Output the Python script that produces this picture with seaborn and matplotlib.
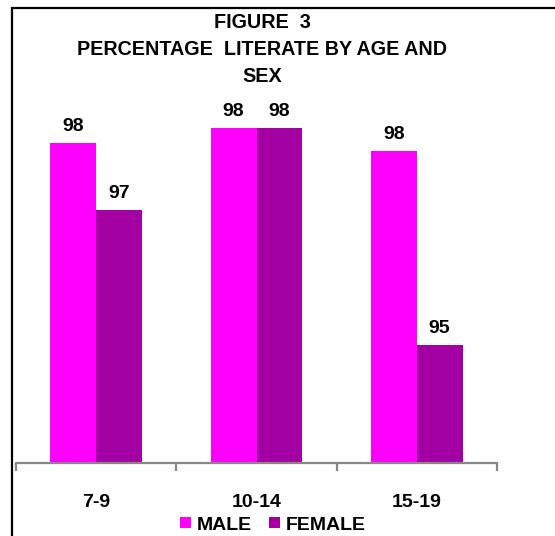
import matplotlib
matplotlib.use("Agg")
import matplotlib.pyplot as plt
from matplotlib.patches import Rectangle, Patch
import seaborn as sns
import pandas as pd

# Percentage literate by age group and sex
age_groups = ["7-9", "10-14", "15-19"]
male = [98.23, 98.50, 98.08]
female = [97.01, 98.50, 94.55]
sexes = ["MALE", "FEMALE"]
colors = {"MALE": "#FF00FF", "FEMALE": "#A300A3"}

df = pd.DataFrame({
    "age": age_groups * 2,
    "sex": ["MALE"] * len(age_groups) + ["FEMALE"] * len(age_groups),
    "pct": male + female,
})

sns.set_style("white")
plt.rcParams["font.family"] = ["Liberation Sans", "DejaVu Sans"]
plt.rcParams["text.color"] = "black"
plt.rcParams["xtick.color"] = "black"

fig = plt.figure(figsize=(5.55, 5.36), dpi=100)
ax = fig.add_axes([16 / 555, 1 - 463 / 536, 481 / 555, 363 / 536])

sns.barplot(data=df, x="age", y="pct", hue="sex", order=age_groups,
            hue_order=sexes, palette=colors, saturation=1, width=0.57, gap=0,
            edgecolor="none", linewidth=0, legend=False, ax=ax)

ax.set_ylim(92.4, 99.01)
ax.set_xlim(-0.5, 2.5)
ax.set_xlabel("")
ax.set_ylabel("")
ax.set_yticks([])

for c in ax.containers:
    ax.bar_label(c, fmt="%.0f", padding=6, fontsize=14, fontweight="bold",
                 color="black")

for s in ["left", "top", "right"]:
    ax.spines[s].set_visible(False)
ax.spines["bottom"].set_color("#888888")
ax.spines["bottom"].set_linewidth(1.6)

# Category boundary ticks on the baseline
ax.set_xticks([-0.5, 0.5, 1.5, 2.5], minor=True)
ax.tick_params(axis="x", which="minor", bottom=True, length=6, width=1.6,
               color="#888888", direction="out")
ax.tick_params(axis="x", which="major", bottom=False, length=0, pad=22,
               labelcolor="black")
for lbl in ax.get_xticklabels():
    lbl.set_fontsize(14)
    lbl.set_fontweight("bold")

fig.text(262 / 555, 1 - 13 / 536,
         "FIGURE  3\nPERCENTAGE  LITERATE BY AGE AND\nSEX",
         ha="center", va="top", fontsize=14.2, fontweight="bold", color="black",
         linespacing=1.55, multialignment="center")

handles = [Patch(facecolor=colors[s], edgecolor="none") for s in sexes]
fig.legend(handles, sexes, loc="center", bbox_to_anchor=(273 / 555, 1 - 525 / 536),
           ncol=2, frameon=False, handlelength=0.55, handleheight=0.55,
           handletextpad=0.3, columnspacing=0.9,
           prop={"weight": "bold", "size": 14})

fig.patches.append(Rectangle((12 / 555, -0.1), 1.2, 1.1 - 8 / 536,
                             transform=fig.transFigure, fill=False,
                             edgecolor="black", linewidth=1.6))

fig.savefig("out.png", dpi=100)
